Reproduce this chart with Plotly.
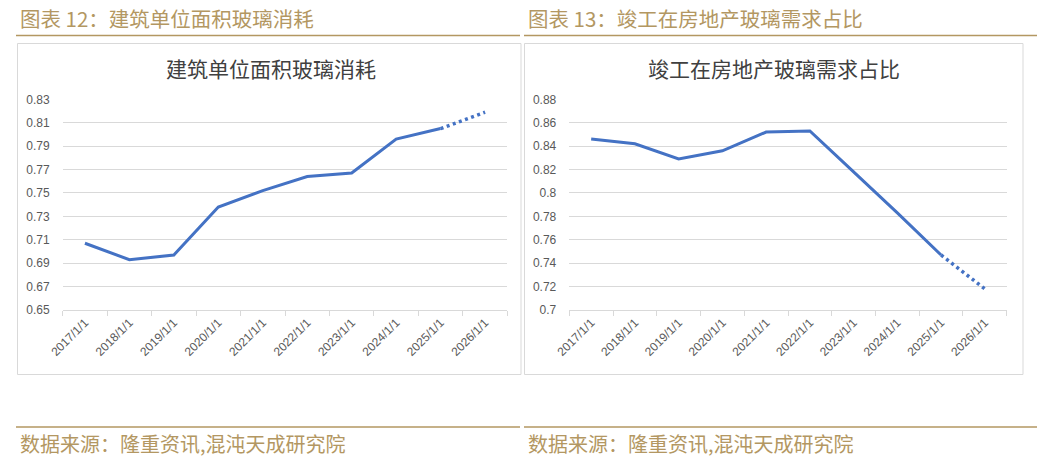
import plotly.graph_objects as go

W, H = 1044, 462

categories = ["2017/1/1", "2018/1/1", "2019/1/1", "2020/1/1", "2021/1/1",
              "2022/1/1", "2023/1/1", "2024/1/1", "2025/1/1", "2026/1/1"]
glass_per_area = [0.707, 0.693, 0.697, 0.738, 0.752, 0.764, 0.767, 0.796, 0.805, 0.819]
completion_share = [0.846, 0.842, 0.829, 0.836, 0.852, 0.853, 0.818, 0.783, 0.747, 0.718]
left_ticks = [0.65, 0.67, 0.69, 0.71, 0.73, 0.75, 0.77, 0.79, 0.81, 0.83]
right_ticks = [0.70, 0.72, 0.74, 0.76, 0.78, 0.80, 0.82, 0.84, 0.86, 0.88]
right_tick_text = ["0.7", "0.72", "0.74", "0.76", "0.78", "0.8", "0.82", "0.84", "0.86", "0.88"]

header_left = "图表 12：建筑单位面积玻璃消耗"
header_right = "图表 13：竣工在房地产玻璃需求占比"
title_left = "建筑单位面积玻璃消耗"
title_right = "竣工在房地产玻璃需求占比"
source = "数据来源：隆重资讯,混沌天成研究院"

BLUE = "#4472C4"
GRID = "#d9d9d9"
GOLD = "#b39762"
TXT = "#595959"
CJK = "Noto Sans CJK SC"
LAT = "Liberation Sans, Arial, sans-serif"
DOTS = "3px,3.5px"

def px(x):
    return x / W

def py(y):
    return 1 - y / H

fig = go.Figure()

fig.add_trace(go.Scatter(x=categories[:9], y=glass_per_area[:9], mode="lines",
                         line=dict(color=BLUE, width=3), xaxis="x", yaxis="y",
                         showlegend=False, hoverinfo="x+y"))
fig.add_trace(go.Scatter(x=categories[8:], y=glass_per_area[8:], mode="lines",
                         line=dict(color=BLUE, width=3.5, dash=DOTS), xaxis="x", yaxis="y",
                         showlegend=False, hoverinfo="x+y"))
fig.add_trace(go.Scatter(x=categories[:9], y=completion_share[:9], mode="lines",
                         line=dict(color=BLUE, width=3), xaxis="x2", yaxis="y2",
                         showlegend=False, hoverinfo="x+y"))
fig.add_trace(go.Scatter(x=categories[8:], y=completion_share[8:], mode="lines",
                         line=dict(color=BLUE, width=3.5, dash=DOTS), xaxis="x2", yaxis="y2",
                         showlegend=False, hoverinfo="x+y"))

ydom = [py(310), py(99.3)]

xcommon = dict(type="category", categoryorder="array", categoryarray=categories,
               tickson="boundaries", ticks="outside", ticklen=5, tickcolor=GRID,
               showline=True, linecolor=GRID, linewidth=1, showgrid=False,
               tickangle=-45, tickfont=dict(family=LAT, size=12, color=TXT),
               range=[-0.5, 9.5], fixedrange=True)
ycommon = dict(showgrid=True, gridcolor=GRID, gridwidth=1, zeroline=False,
               showline=False, ticks="", tickfont=dict(family=LAT, size=12, color=TXT),
               ticklabelstandoff=12, fixedrange=True)

fig.update_layout(
    autosize=True, margin=dict(l=0, r=0, t=0, b=0, autoexpand=False),
    paper_bgcolor="white", plot_bgcolor="white",
    xaxis=dict(domain=[px(62.7), px(507.3)], anchor="y", **xcommon),
    yaxis=dict(domain=ydom, anchor="x", range=[0.65, 0.83], tickvals=left_ticks,
               ticktext=[f"{v:.2f}" for v in left_ticks], **ycommon),
    xaxis2=dict(domain=[px(569.3), px(1006.7)], anchor="y2", **xcommon),
    yaxis2=dict(domain=ydom, anchor="x2", range=[0.70, 0.88], tickvals=right_ticks,
                ticktext=right_tick_text, **ycommon),
)

shapes = []
for x0, x1 in [(16, 520), (524, 1037)]:
    shapes.append(dict(type="line", xref="paper", yref="paper", x0=px(x0), x1=px(x1),
                       y0=py(35.5), y1=py(35.5), line=dict(color=GOLD, width=1.3)))
    shapes.append(dict(type="line", xref="paper", yref="paper", x0=px(x0), x1=px(x1),
                       y0=py(427), y1=py(427), line=dict(color=GOLD, width=1.3)))
for x0, x1 in [(17.5, 521), (524.5, 1023)]:
    shapes.append(dict(type="rect", xref="paper", yref="paper", x0=px(x0), x1=px(x1),
                       y0=py(374.5), y1=py(43.5), line=dict(color=GRID, width=1),
                       fillcolor="rgba(0,0,0,0)", layer="below"))
fig.update_layout(shapes=shapes)

annotations = [
    dict(text=header_left, x=px(18), y=py(18), xanchor="left", yanchor="middle",
         font=dict(family=CJK, size=20.5, color=GOLD)),
    dict(text=header_right, x=px(526), y=py(18), xanchor="left", yanchor="middle",
         font=dict(family=CJK, size=20.5, color=GOLD)),
    dict(text=title_left, x=px(271), y=py(68), xanchor="center", yanchor="middle",
         font=dict(family=CJK, size=21, color="#404040")),
    dict(text=title_right, x=px(774), y=py(68), xanchor="center", yanchor="middle",
         font=dict(family=CJK, size=21, color="#404040")),
    dict(text=source, x=px(18), y=py(443), xanchor="left", yanchor="middle",
         font=dict(family=CJK, size=20, color=GOLD)),
    dict(text=source, x=px(526), y=py(443), xanchor="left", yanchor="middle",
         font=dict(family=CJK, size=20, color=GOLD)),
]
for a in annotations:
    a.update(xref="paper", yref="paper", showarrow=False)
fig.update_layout(annotations=annotations)

fig.write_html("out.html", config={"displayModeBar": False},
               default_width="100vw", default_height="100vh",
               post_script="document.body.style.margin='0';document.body.style.overflow='hidden';")
